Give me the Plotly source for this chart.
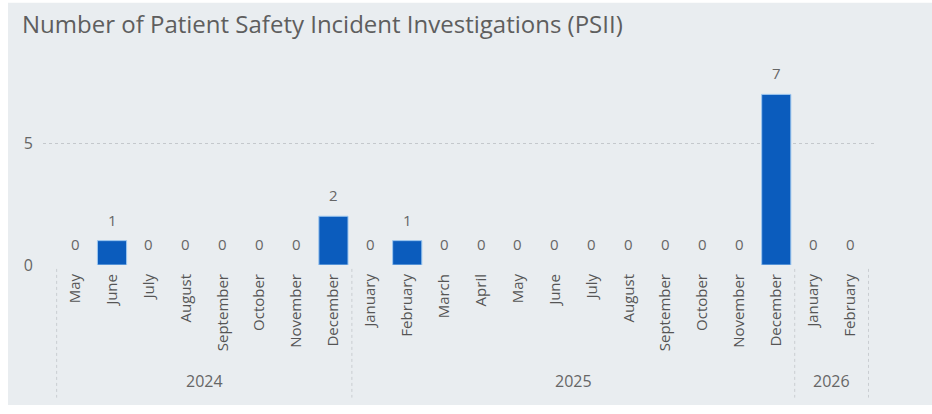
import plotly.graph_objects as go

# Monthly PSII counts, May 2024 – February 2026
years = ["2024"] * 8 + ["2025"] * 12 + ["2026"] * 2
months = [
    "May", "June", "July", "August", "September", "October", "November", "December",
    "January", "February", "March", "April", "May", "June", "July", "August",
    "September", "October", "November", "December",
    "January", "February",
]
counts = [0, 1, 0, 0, 0, 0, 0, 2,
          0, 1, 0, 0, 0, 0, 0, 0, 0, 0, 0, 7,
          0, 0]
year_labels = ["2024", "2025", "2026"]
y_ticks = [0, 5]

BG = "#e9edf0"
BAR = "#0b5cbd"
TEXT = "#666666"
GRID = "#c4c8cc"

idx = list(range(len(months)))

fig = go.Figure()
fig.add_trace(go.Bar(
    x=idx,
    y=counts,
    marker=dict(
        color=BAR,
        line=dict(color="#9cc6ef", width=[0 if c == 0 else 1 for c in counts]),
    ),
    width=0.79,
    hoverinfo="skip",
))

annotations = []
# value labels above each bar
for i, c in zip(idx, counts):
    annotations.append(dict(
        x=i, y=c, xref="x", yref="y", text=str(c), showarrow=False,
        yanchor="bottom", yshift=9,
        font=dict(family="Open Sans", size=15, color=TEXT),
    ))

# card background
shapes = [dict(
    type="rect", xref="paper", yref="paper",
    x0=-0.042, x1=1.07, y0=-0.718, y1=1.345,
    fillcolor=BG, line=dict(width=0), layer="below",
)]

# year group labels and dotted separators
start = 0
for yl in year_labels:
    n = years.count(yl)
    end = start + n
    annotations.append(dict(
        x=(start + end - 1) / 2, y=-0.59, xref="x", yref="paper",
        yanchor="middle", yshift=-1,
        text=yl, showarrow=False,
        font=dict(family="Open Sans", size=16, color=TEXT),
    ))
    start = end

bounds = [-0.5]
start = 0
for yl in year_labels:
    start += years.count(yl)
    bounds.append(start - 0.5)
for b in bounds:
    shapes.append(dict(
        type="line", xref="x", yref="paper",
        x0=b, x1=b, y0=-0.02, y1=-0.68,
        line=dict(color="#c9cdd1", width=1, dash="dot"),
    ))

fig.update_layout(
    width=932, height=414,
    margin=dict(l=43, r=55, t=70, b=149),
    paper_bgcolor="white",
    plot_bgcolor=BG,
    showlegend=False,
    bargap=0.2,
    title=dict(
        text="Number of Patient Safety Incident Investigations (PSII)",
        x=22 / 932, xanchor="left", y=1 - 25 / 414, yanchor="middle",
        font=dict(family="Open Sans", size=24, color="#5e5e5e"),
    ),
    xaxis=dict(
        range=[-0.87, 21.73],
        tickmode="array", tickvals=idx, ticktext=months,
        tickangle=-90,
        tickfont=dict(family="Open Sans", size=15, color="#555555"),
        showgrid=False, zeroline=False, showline=False, ticks="",
        ticklabelstandoff=5,
    ),
    yaxis=dict(
        range=[0, 8],
        tickmode="array", tickvals=y_ticks,
        tickfont=dict(family="Open Sans", size=16, color=TEXT),
        showgrid=True, gridcolor=GRID, griddash="dot", gridwidth=1,
        zeroline=False, showline=False, ticks="",
        ticklabelstandoff=9,
    ),
    shapes=shapes,
    annotations=annotations,
)

fig.write_html("out.html")
